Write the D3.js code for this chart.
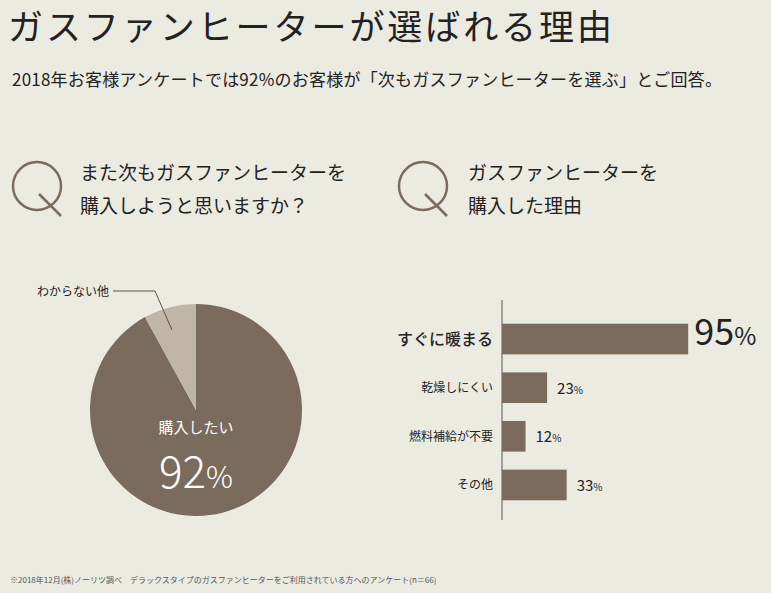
<!DOCTYPE html><html><head><meta charset="utf-8"><script src="https://cdn.jsdelivr.net/npm/d3@7"></script>
<style>body{margin:0;background:#ecebe2}text{font-family:"Noto Sans CJK JP",sans-serif}</style></head><body><svg id="c" width="771" height="593"></svg>
<script>
const pieLabels=["購入したい","わからない他"];
const pieValues=[92,8];
const barCats=["すぐに暖まる","乾燥しにくい","燃料補給が不要","その他"];
const barValues=[95,23,12,33];
const dark="#7b6b5c",light="#c0b6a6",ink="#222";
const svg=d3.select("#c");
svg.append("rect").attr("width",771).attr("height",593).attr("fill","#ecebe2");
svg.append("text").attr("x",8).attr("y",40).attr("font-size",35).attr("textLength",604).attr("fill",ink).text("ガスファンヒーターが選ばれる理由");
svg.append("text").attr("x",12).attr("y",86).attr("font-size",17).attr("textLength",710).attr("fill",ink).text("2018年お客様アンケートでは92%のお客様が「次もガスファンヒーターを選ぶ」とご回答。");
function Q(x,y){const g=svg.append("g").attr("fill","none").attr("stroke",dark).attr("stroke-width",2.5);
 g.append("circle").attr("cx",x).attr("cy",y).attr("r",24);
 g.append("line").attr("x1",x+2).attr("y1",y+8).attr("x2",x+24).attr("y2",y+30);}
Q(37,186);Q(423,186);
[["また次もガスファンヒーターを",180],["購入しようと思いますか？",213]].forEach(d=>svg.append("text").attr("x",80).attr("y",d[1]).attr("font-size",19).attr("fill",ink).text(d[0]));
[["ガスファンヒーターを",180],["購入した理由",213]].forEach(d=>svg.append("text").attr("x",468).attr("y",d[1]).attr("font-size",19).attr("fill",ink).text(d[0]));
const pie=d3.pie().sort(null)(pieValues);
const arc=d3.arc().innerRadius(0).outerRadius(106);
const pg=svg.append("g").attr("transform","translate(196,410)");
pg.selectAll("path").data(pie).join("path").attr("d",arc).attr("fill",(d,i)=>i?light:dark);
svg.append("polyline").attr("points","113,291 155,291 172,330").attr("fill","none").attr("stroke","#555").attr("stroke-width",1);
svg.append("text").attr("x",37).attr("y",296).attr("font-size",12).attr("fill",ink).text(pieLabels[1]);
svg.append("text").attr("x",196).attr("y",433).attr("text-anchor","middle").attr("font-size",15).attr("fill","#fff").text(pieLabels[0]);
const pt=svg.append("text").attr("x",196).attr("y",488).attr("text-anchor","middle").attr("fill","#fff").attr("font-family","Lato").attr("font-weight",300);
pt.append("tspan").attr("font-size",44).text(pieValues[0]);pt.append("tspan").attr("font-size",30).text("%");
const x=d3.scaleLinear().domain([0,100]).range([502,698]);
const y=d3.scaleBand().domain(barCats).range([314,510]).paddingInner(0.37).paddingOuter(0.2);
svg.append("line").attr("x1",502).attr("x2",502).attr("y1",300).attr("y2",520).attr("stroke","#555");
svg.selectAll(".b").data(barCats).join("rect").attr("x",x(0)).attr("y",d=>y(d)).attr("height",y.bandwidth()).attr("width",(d,i)=>x(barValues[i])-x(0)).attr("fill",dark);
barCats.forEach((c,i)=>{const big=i===0,cy=y(c)+y.bandwidth()/2;
 svg.append("text").attr("x",493).attr("y",cy).attr("dy","0.35em").attr("text-anchor","end").attr("font-size",big?16:12).attr("font-weight",big?500:400).attr("fill",ink).text(c);
 const t=svg.append("text").attr("x",x(barValues[i])+(big?6:10)).attr("y",cy).attr("dy","0.38em").attr("fill",ink).attr("font-family","Lato");
 t.append("tspan").attr("font-size",big?36:15).text(barValues[i]);t.append("tspan").attr("font-size",big?24:10).text("%");});
svg.append("text").attr("x",10).attr("y",583).attr("font-size",8).attr("fill","#555").text("※2018年12月(株)ノーリツ調べ　デラックスタイプのガスファンヒーターをご利用されている方へのアンケート(n＝66)");
</script></body></html>
